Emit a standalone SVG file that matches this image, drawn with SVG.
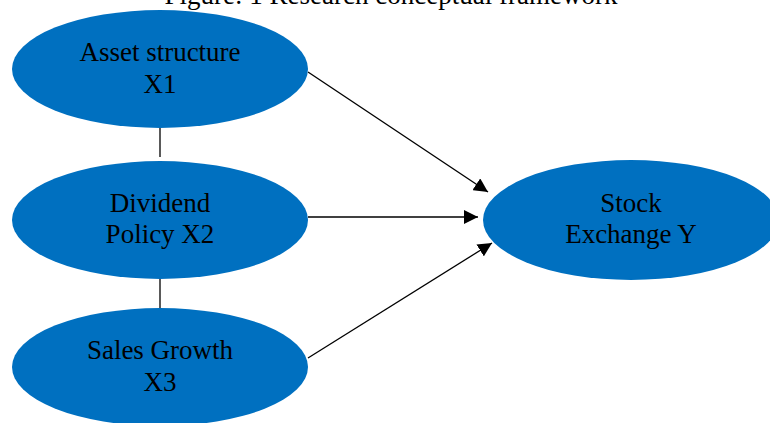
<svg xmlns="http://www.w3.org/2000/svg" width="770" height="423" viewBox="0 0 770 423">
<defs>
<style>
.node{fill:#0070C0;}
.lbl{font-family:"Liberation Serif","Times New Roman",serif;font-size:27px;fill:#000;text-anchor:middle;}
.conn{stroke:#000;stroke-width:1.3;fill:none;}
</style>
<marker id="arr" viewBox="0 0 10 10" refX="10" refY="5" markerWidth="14" markerHeight="14" markerUnits="userSpaceOnUse" orient="auto">
<path d="M0,0 L10,5 L0,10 Z" fill="#000"/>
</marker>
</defs>
<rect width="770" height="423" fill="#fff"/>
<text class="lbl" x="391" y="4">Figure: 1 Research conceptual framework</text>
<g id="connectors">
<line class="conn" x1="160" y1="128" x2="160" y2="157"/>
<line class="conn" x1="160" y1="279" x2="160" y2="308"/>
<line class="conn" x1="308" y1="72" x2="488" y2="192" marker-end="url(#arr)"/>
<line class="conn" x1="308" y1="217" x2="478" y2="217" marker-end="url(#arr)"/>
<line class="conn" x1="308" y1="358" x2="492" y2="243" marker-end="url(#arr)"/>
</g>
<g id="x1">
<ellipse class="node" cx="160" cy="69" rx="148" ry="59"/>
<text class="lbl" x="160" y="61">Asset structure</text>
<text class="lbl" x="160" y="93">X1</text>
</g>
<g id="x2">
<ellipse class="node" cx="160" cy="220" rx="148" ry="59"/>
<text class="lbl" x="160" y="212">Dividend</text>
<text class="lbl" x="160" y="243">Policy X2</text>
</g>
<g id="x3">
<ellipse class="node" cx="160" cy="367" rx="148" ry="59"/>
<text class="lbl" x="160" y="359">Sales Growth</text>
<text class="lbl" x="160" y="391">X3</text>
</g>
<g id="y">
<ellipse class="node" cx="631" cy="220" rx="148" ry="60"/>
<text class="lbl" x="631" y="212">Stock</text>
<text class="lbl" x="631" y="243">Exchange Y</text>
</g>
</svg>
